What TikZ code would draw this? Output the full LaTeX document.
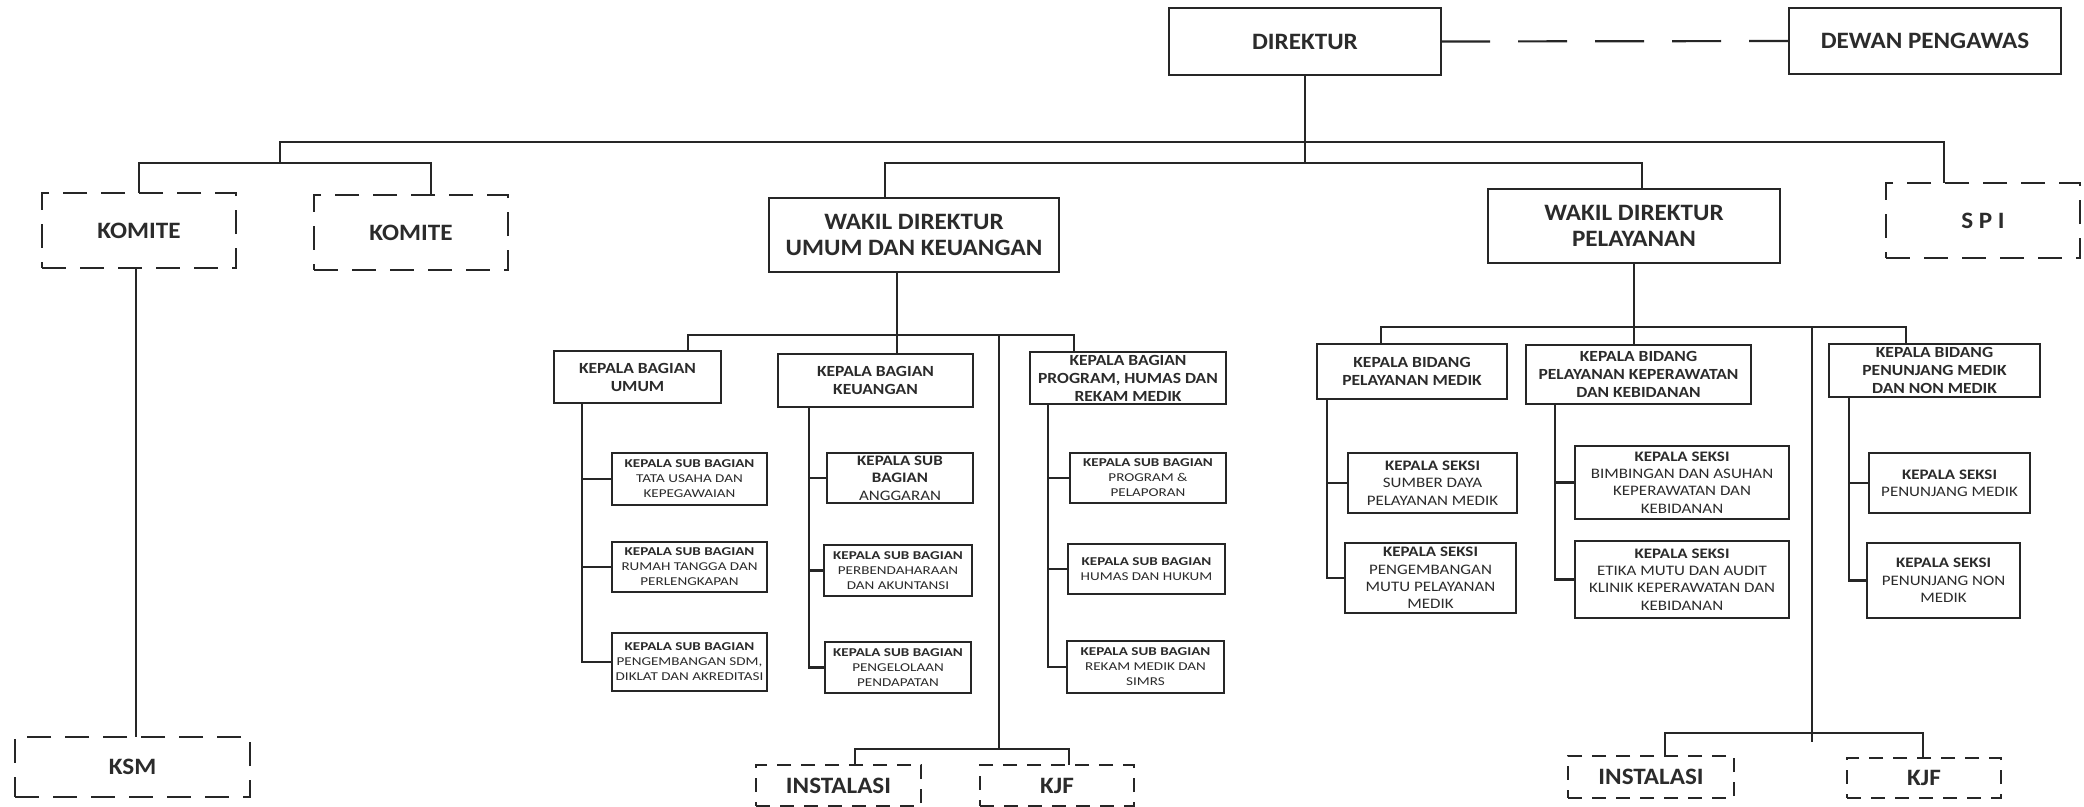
\documentclass[tikz,border=0pt]{standalone}
\usepackage{fontspec}
\setmainfont{Carlito}
\newfontfamily\cftop[FakeStretch=1.07]{Carlito}
\newfontfamily\cfmid[FakeStretch=1.13]{Carlito}
\newfontfamily\cfks[FakeStretch=1.17]{Carlito}
\newfontfamily\cfsub[FakeStretch=1.26]{Carlito}
\definecolor{lc}{HTML}{262626}
\definecolor{tc}{HTML}{2B2B2B}
\newcommand\ftop{\cftop\fontsize{23.5}{26}\selectfont\bfseries}
\newcommand\fkb{\cfmid\fontsize{15.5}{18}\selectfont\bfseries}
\newcommand\fsb{\cfsub\fontsize{12}{15}\selectfont}
\newcommand\fks{\cfks\fontsize{14.5}{17.4}\selectfont}
\newcommand\fsmall{\cftop\fontsize{23.5}{26}\selectfont\bfseries}
\begin{document}
\begin{tikzpicture}[x=1pt,y=-1pt,
  bx/.style={draw=lc, line width=1.8pt, inner sep=0pt, outer sep=0pt, align=center, text=tc},
  dbx/.style={bx, dash pattern=on 24pt off 14pt},
  sdbx/.style={bx, line width=1.6pt, dash pattern=on 14pt off 10pt},
  ln/.style={draw=lc, line width=2pt},
  spn/.style={draw=lc, line width=2.6pt},
  thn/.style={draw=lc, line width=1.5pt},
  dln/.style={draw=lc, line width=2.2pt, dash pattern=on 49pt off 28pt}]
\fill[white] (0,0) rectangle (2084,806);
\useasboundingbox (0,0) rectangle (2084,806);

% top level
\node[bx, minimum width=272, minimum height=67, font=\ftop] (dir) at (1305,41.5) {DIREKTUR};
\node[bx, minimum width=272, minimum height=66, font=\ftop] (dew) at (1925,41) {DEWAN PENGAWAS};
\node[dbx, minimum width=194, minimum height=75, font=\ftop] (k1) at (139,230.5) {KOMITE};
\node[dbx, minimum width=194, minimum height=75, font=\ftop] (k2) at (411,232.5) {KOMITE};
\node[dbx, minimum width=194, minimum height=75, font=\ftop] (spi) at (1983,220.5) {S P I};
\node[bx, minimum width=290, minimum height=74, font=\ftop] (wu) at (914,235) {WAKIL DIREKTUR\\UMUM DAN KEUANGAN};
\node[bx, minimum width=292, minimum height=74, font=\ftop] (wp) at (1634,226) {WAKIL DIREKTUR\\PELAYANAN};

% kepala bagian
\node[bx, minimum width=167, minimum height=52, font=\fkb] (kbu) at (637.5,377) {KEPALA BAGIAN\\UMUM};
\node[bx, minimum width=195, minimum height=53, font=\fkb] (kbk) at (875.5,380.5) {KEPALA BAGIAN\\KEUANGAN};
\node[bx, minimum width=196, minimum height=52, font=\fkb] (kbp) at (1128,378) {KEPALA BAGIAN\\PROGRAM, HUMAS DAN\\REKAM MEDIK};

% sub bagian
\node[bx, minimum width=155, minimum height=52, font=\fsb] (sb1) at (689.5,479) {{\bfseries KEPALA SUB BAGIAN}\\TATA USAHA DAN\\KEPEGAWAIAN};
\node[bx, minimum width=155, minimum height=50, font=\fsb] (sb2) at (689.5,567) {{\bfseries KEPALA SUB BAGIAN}\\RUMAH TANGGA DAN\\PERLENGKAPAN};
\node[bx, minimum width=155, minimum height=58, font=\fsb] (sb3) at (689.5,662) {{\bfseries KEPALA SUB BAGIAN}\\PENGEMBANGAN SDM,\\DIKLAT DAN AKREDITASI};
\node[bx, minimum width=146, minimum height=50, font=\fks] (sk1) at (900,478) {{\bfseries KEPALA SUB}\\{\bfseries BAGIAN}\\ANGGARAN};
\node[bx, minimum width=148, minimum height=51, font=\fsb] (sk2) at (898,570.5) {{\bfseries KEPALA SUB BAGIAN}\\PERBENDAHARAAN\\DAN AKUNTANSI};
\node[bx, minimum width=146, minimum height=51, font=\fsb] (sk3) at (898,667.5) {{\bfseries KEPALA SUB BAGIAN}\\PENGELOLAAN\\PENDAPATAN};
\node[bx, minimum width=156, minimum height=50, font=\fsb] (sp1) at (1148,478) {{\bfseries KEPALA SUB BAGIAN}\\PROGRAM \&\\PELAPORAN};
\node[bx, minimum width=157, minimum height=50, font=\fsb] (sp2) at (1146.5,569) {{\bfseries KEPALA SUB BAGIAN}\\HUMAS DAN HUKUM};
\node[bx, minimum width=157, minimum height=52, font=\fsb] (sp3) at (1145.5,667) {{\bfseries KEPALA SUB BAGIAN}\\REKAM MEDIK DAN\\SIMRS};

% kepala bidang
\node[bx, minimum width=190, minimum height=55, font=\fkb] (kbm) at (1412,371.5) {KEPALA BIDANG\\PELAYANAN MEDIK};
\node[bx, minimum width=225, minimum height=59, font=\fkb] (kbkp) at (1638.5,374.5) {KEPALA BIDANG\\PELAYANAN KEPERAWATAN\\DAN KEBIDANAN};
\node[bx, minimum width=211, minimum height=53, font=\fkb] (kbpn) at (1934.5,370.5) {KEPALA BIDANG\\PENUNJANG MEDIK\\DAN NON MEDIK};

% kepala seksi
\node[bx, minimum width=169, minimum height=60, font=\fks] (sm1) at (1432.5,483) {{\bfseries KEPALA SEKSI}\\SUMBER DAYA\\PELAYANAN MEDIK};
\node[bx, minimum width=171, minimum height=70, font=\fks] (sm2) at (1430.5,578) {{\bfseries KEPALA SEKSI}\\PENGEMBANGAN\\MUTU PELAYANAN\\MEDIK};
\node[bx, minimum width=214, minimum height=73, font=\fks] (se1) at (1682,482.5) {{\bfseries KEPALA SEKSI}\\BIMBINGAN DAN ASUHAN\\KEPERAWATAN DAN\\KEBIDANAN};
\node[bx, minimum width=214, minimum height=77, font=\fks] (se2) at (1682,579.5) {{\bfseries KEPALA SEKSI}\\ETIKA MUTU DAN AUDIT\\KLINIK KEPERAWATAN DAN\\KEBIDANAN};
\node[bx, minimum width=161, minimum height=60, font=\fks] (sn1) at (1949.5,483) {{\bfseries KEPALA SEKSI}\\PENUNJANG MEDIK};
\node[bx, minimum width=153, minimum height=75, font=\fks] (sn2) at (1943.5,580.5) {{\bfseries KEPALA SEKSI}\\PENUNJANG NON\\MEDIK};

% bottom dashed
\node[dbx, minimum width=235, minimum height=60, font=\fsmall] (ksm) at (132.5,767) {KSM};
\node[sdbx, minimum width=165, minimum height=41, font=\fsmall] (il) at (838.5,785.5) {INSTALASI};
\node[sdbx, minimum width=154, minimum height=41, font=\fsmall] (kl) at (1057,785.5) {KJF};
\node[sdbx, minimum width=166, minimum height=42, font=\fsmall] (ir) at (1651,777) {INSTALASI};
\node[sdbx, minimum width=154, minimum height=40, font=\fsmall] (kr) at (1924,778) {KJF};

% coordinates
\coordinate (Y1) at (0,142);
\coordinate (Y2) at (0,163);
\coordinate (H1) at (0,335);
\coordinate (H2) at (0,327);
\coordinate (H3) at (0,749);
\coordinate (H4) at (0,733);
\coordinate (XJ) at (280,0);
\coordinate (XK2) at (431,0);
\coordinate (XSPI) at (1944,0);
\coordinate (XWU) at (885,0);
\coordinate (XWP) at (1642,0);
\coordinate (XWUB) at (897,0);
\coordinate (XKBU) at (688,0);
\coordinate (XKBP) at (1074,0);
\coordinate (XI1) at (999,0);
\coordinate (XIL) at (855,0);
\coordinate (XKL) at (1069,0);
\coordinate (XMED) at (1381,0);
\coordinate (XPEN) at (1906,0);
\coordinate (XI2) at (1812,0);
\coordinate (XI2E) at (1812,742);
\coordinate (XIR) at (1665,0);
\coordinate (XKR) at (1923,0);
\coordinate (XKSM) at (136,0);
\coordinate (SU) at (582,0);
\coordinate (SK) at (809,0);
\coordinate (SPR) at (1048,0);
\coordinate (SM) at (1327,0);
\coordinate (SKP) at (1555,0);
\coordinate (SPN) at (1849,0);

% top connectors
\draw[dln] (dir.east) -- (dew.west);
\draw[ln] (dir.south) -- (dir.south |- Y2);
\draw[ln] (XJ |- Y2) -- (XJ |- Y1) -- (XSPI |- Y1) -- (spi.north -| XSPI);
\draw[ln] (k1.north) -- (k1.north |- Y2) -- (XK2 |- Y2) -- (k2.north -| XK2);
\draw[ln] (wu.north -| XWU) -- (XWU |- Y2) -- (XWP |- Y2) -- (wp.north -| XWP);
\draw[thn] (k1.south -| XKSM) -- (ksm.north -| XKSM);

% wakil umum branch
\draw[ln] (wu.south -| XWUB) -- (kbk.north -| XWUB);
\draw[ln] (kbu.north -| XKBU) -- (XKBU |- H1) -- (XKBP |- H1) -- (kbp.north -| XKBP);
\draw[thn] (XI1 |- H1) -- (XI1 |- H3);
\draw[ln] (il.north -| XIL) -- (XIL |- H3) -- (XKL |- H3) -- (kl.north -| XKL);

% wakil pelayanan branch
\draw[ln] (wp.south) -- (kbkp.north -| wp.south);
\draw[ln] (kbm.north -| XMED) -- (XMED |- H2) -- (XPEN |- H2) -- (kbpn.north -| XPEN);
\draw[thn] (XI2 |- H2) -- (XI2E);
\draw[ln] (ir.north -| XIR) -- (XIR |- H4) -- (XKR |- H4) -- (kr.north -| XKR);

% spines
\draw[spn] (kbu.south -| SU) |- (sb3.west);
\draw[spn] (SU |- sb1.west) -- (sb1.west);
\draw[spn] (SU |- sb2.west) -- (sb2.west);
\draw[spn] (kbk.south -| SK) |- (sk3.west);
\draw[spn] (SK |- sk1.west) -- (sk1.west);
\draw[spn] (SK |- sk2.west) -- (sk2.west);
\draw[spn] (kbp.south -| SPR) |- (sp3.west);
\draw[spn] (SPR |- sp1.west) -- (sp1.west);
\draw[spn] (SPR |- sp2.west) -- (sp2.west);
\draw[spn] (kbm.south -| SM) |- (sm2.west);
\draw[spn] (SM |- sm1.west) -- (sm1.west);
\draw[spn] (kbkp.south -| SKP) |- (se2.west);
\draw[spn] (SKP |- se1.west) -- (se1.west);
\draw[spn] (kbpn.south -| SPN) |- (sn2.west);
\draw[spn] (SPN |- sn1.west) -- (sn1.west);
\end{tikzpicture}
\end{document}
